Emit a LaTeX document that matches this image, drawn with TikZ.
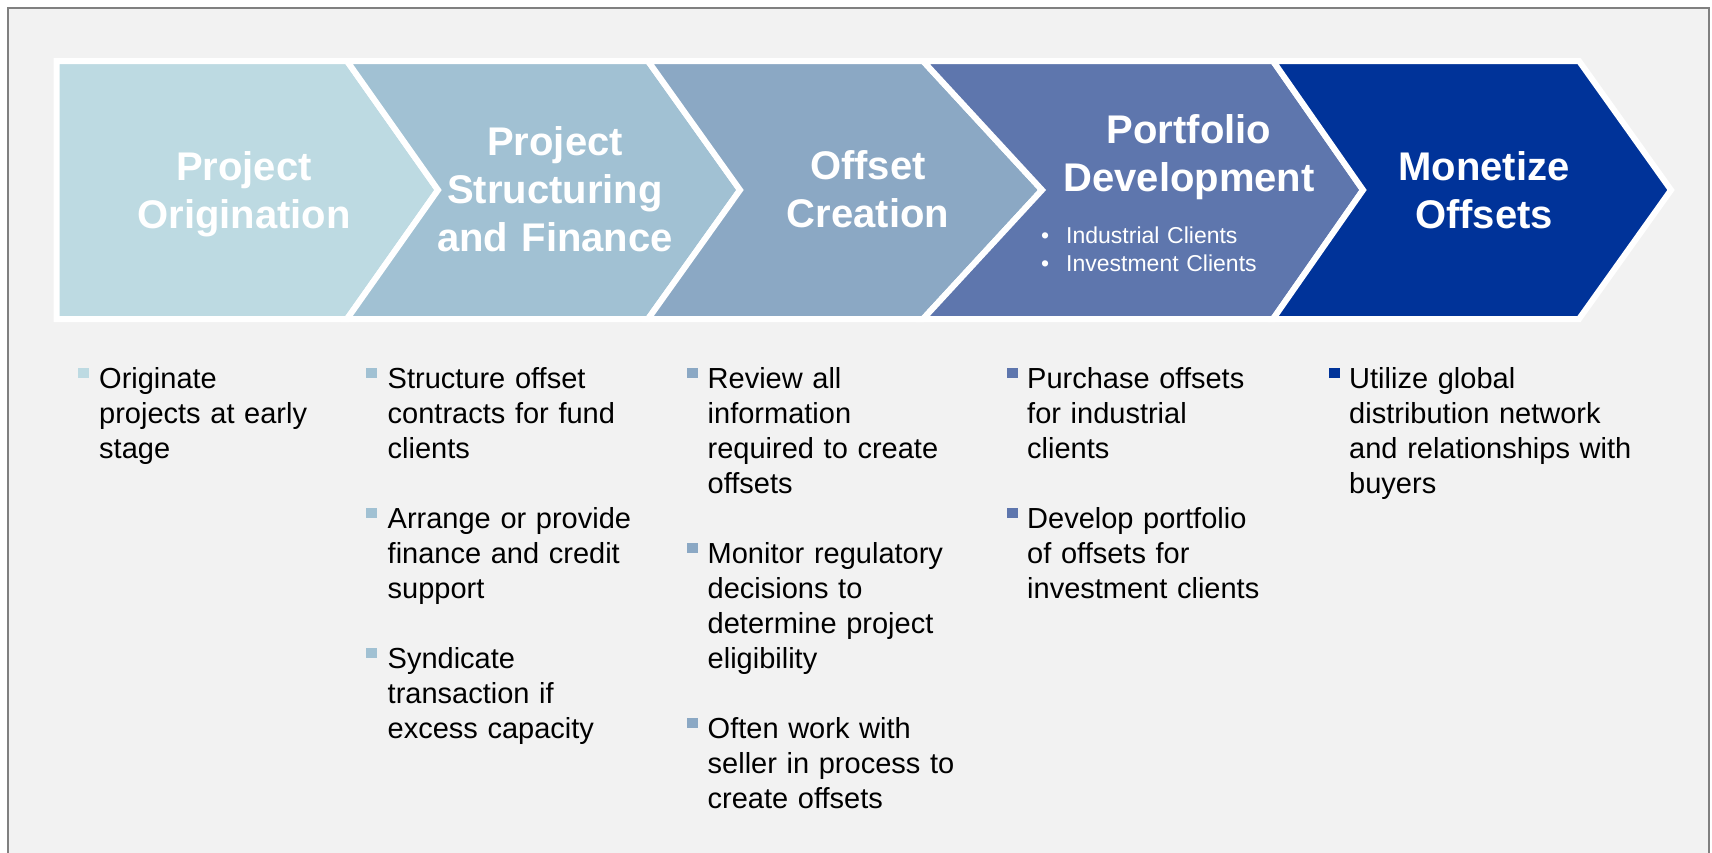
\documentclass[tikz,border=0pt]{standalone}
\usepackage{fontspec}
\setmainfont{Liberation Sans}
\definecolor{bgc}{HTML}{F2F2F2}
\definecolor{framec}{HTML}{808080}
\definecolor{cA}{HTML}{BDDAE2}
\definecolor{cB}{HTML}{A1C1D3}
\definecolor{cC}{HTML}{8BA8C4}
\definecolor{cD}{HTML}{5E76AD}
\definecolor{cE}{HTML}{003399}
\tikzset{
  chev/.style={draw=white, line width=6pt, line join=miter},
  ttl/.style={anchor=base, text width=300pt, align=center, inner sep=0pt, text=white,
    font=\fontsize{40}{48}\selectfont\bfseries},
  itm/.style={anchor=base west, text width=290pt, align=left, inner sep=0pt,
    font=\fontsize{29}{35}\selectfont},
  sub/.style={anchor=base west, text width=220pt, align=left, inner sep=0pt, text=white,
    font=\fontsize{23}{28}\selectfont},
  sq/.style={inner sep=0pt, minimum width=10.5pt, minimum height=10pt, anchor=north west}
}
\begin{document}
\begin{tikzpicture}[x=1pt,y=-1pt]
\useasboundingbox (0,0) rectangle (1712,852);
\clip (0,0) rectangle (1712,852);
\fill[white] (0,0) rectangle (1712,852);
\draw[draw=framec, fill=bgc, line width=2pt] (8,8) rectangle (1709,880);

% chevrons
\fill[chev, fill=cA] (56.5,61) -- (347,61) -- (438,190) -- (347,319) -- (56.5,319) -- cycle;
\fill[chev, fill=cB] (347,61) -- (648,61) -- (740,190) -- (648,319) -- (347,319) -- (438,190) -- cycle;
\fill[chev, fill=cC] (648,61) -- (923,61) -- (1042,190) -- (923,319) -- (648,319) -- (740,190) -- cycle;
\fill[chev, fill=cD] (923,61) -- (1273,61) -- (1363,190) -- (1273,319) -- (923,319) -- (1042,190) -- cycle;
\fill[chev, fill=cE] (1273,61) -- (1579,61) -- (1671,190) -- (1579,319) -- (1273,319) -- (1363,190) -- cycle;

% titles
\node[ttl] (t1) at (244,180) {Project\\Origination};
\node[ttl] (t2) at (555,155) {Project\\Structuring\\and Finance};
\node[ttl] (t3) at (868,179) {Offset\\Creation};
\node[ttl] (t4) at (1189,143) {Portfolio\\Development};
\node[ttl] (t5) at (1484,180) {Monetize\\Offsets};
\node[sub] (t4s) at (1041,243) {\makebox[25pt][l]{•}Industrial Clients\\\makebox[25pt][l]{•}Investment Clients};

% column 1
\node[sq, fill=cA] (q11) at (78,368) {};
\node[itm] (i11) at (99,388) {Originate\\projects at early\\stage};

% column 2
\node[sq, fill=cB] (q21) at (366,368) {};
\node[itm] (i21) at (387.5,388) {Structure offset\\contracts for fund\\clients};
\node[sq, fill=cB] (q22) at (366,508) {};
\node[itm] (i22) at (387.5,528) {Arrange or provide\\finance and credit\\support};
\node[sq, fill=cB] (q23) at (366,648) {};
\node[itm] (i23) at (387.5,668) {Syndicate\\transaction if\\excess capacity};

% column 3
\node[sq, fill=cC] (q31) at (687,368) {};
\node[itm] (i31) at (707.5,388) {Review all\\information\\required to create\\offsets};
\node[sq, fill=cC] (q32) at (687,543) {};
\node[itm] (i32) at (707.5,563) {Monitor regulatory\\decisions to\\determine project\\eligibility};
\node[sq, fill=cC] (q33) at (687,718) {};
\node[itm] (i33) at (707.5,738) {Often work with\\seller in process to\\create offsets};

% column 4
\node[sq, fill=cD] (q41) at (1007,368) {};
\node[itm] (i41) at (1027,388) {Purchase offsets\\for industrial\\clients};
\node[sq, fill=cD] (q42) at (1007,508) {};
\node[itm] (i42) at (1027,528) {Develop portfolio\\of offsets for\\investment clients};

% column 5
\node[sq, fill=cE] (q51) at (1329,368) {};
\node[itm] (i51) at (1349,388) {Utilize global\\distribution network\\and relationships with\\buyers};
\end{tikzpicture}
\end{document}
